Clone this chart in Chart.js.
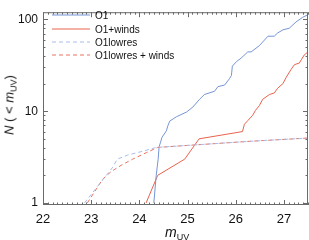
<!DOCTYPE html>
<html>
<head>
<meta charset="utf-8">
<script src="https://cdn.jsdelivr.net/npm/chart.js@4"></script>
<style>
  body { margin: 0; background: #fff; }
  #wrap { position: relative; width: 309px; height: 240px; font-family: "Liberation Sans", Arial, sans-serif; color: #111; }
  canvas { position: absolute; left: 0; top: 0; }
  .leg { position: absolute; left: 95px; font-size: 10px; line-height: 12px; white-space: nowrap; }
  #xt { position: absolute; left: 165px; top: 224px; font-size: 14px; }
  #yt { position: absolute; left: 10px; top: 105px; font-size: 13px; white-space: nowrap; transform: translate(-50%, -50%) rotate(-90deg); }
  sub { font-size: 9px; font-style: normal; vertical-align: -3px; }
</style>
</head>
<body>
<div id="wrap">
  <canvas id="chart" width="309" height="240"></canvas>
  <div class="leg" style="top:10px">O1</div>
  <div class="leg" style="top:24px">O1+winds</div>
  <div class="leg" style="top:37px">O1lowres</div>
  <div class="leg" style="top:50px">O1lowres + winds</div>
  <div id="xt"><i>m</i><sub>UV</sub></div>
  <div id="yt"><i>N</i> ( &lt; <i>m</i><sub>UV</sub>)</div>
</div>
<script>
// Datos
const o1X = [24.30, 24.35, 24.39, 24.41, 24.44, 24.47, 24.56, 24.59, 24.63, 24.77, 24.98, 25.11, 25.25, 25.35, 25.56, 25.63, 25.77, 25.87, 25.91, 25.93, 26.02, 26.11, 26.25, 26.32, 26.49, 26.67, 26.80, 26.87, 26.98, 27.11, 27.25, 27.39, 27.50];
const o1Y = [1.0, 2.0, 3.0, 4.1, 4.6, 5.2, 6.1, 6.9, 7.8, 8.7, 9.8, 11.1, 13.5, 15.2, 16.5, 18.5, 19.3, 22.6, 24.5, 31, 34.9, 37.8, 44.3, 44.3, 51.8, 65.7, 65.7, 71.2, 77.1, 80.2, 93.8, 105.6, 112.6];

const windsX = [24.14, 24.38, 24.94, 25.24, 26.14, 26.18, 26.25, 26.35, 26.41, 26.49, 26.56, 26.70, 26.80, 26.87, 26.98, 27.05, 27.15, 27.22, 27.32, 27.36, 27.42, 27.50];
const windsY = [1.0, 2.0, 3.0, 5.0, 6.0, 7.2, 7.9, 9.0, 10.2, 11.5, 13.5, 15.2, 15.8, 17.8, 20.0, 23.5, 28.6, 32.2, 33.5, 36.3, 40.9, 44.3];

const lowresX = [22.86, 23.45, 23.54, 23.76, 24.07, 24.35, 25.15, 26.30, 27.50];
const lowresY = [1.0, 2.46, 3.0, 3.33, 3.66, 4.03, 4.29, 4.7, 5.1];

const lowresWindsX = [22.92, 23.24, 23.41, 23.62, 23.86, 24.14, 24.38, 25.15, 26.30, 27.50];
const lowresWindsY = [1.0, 1.82, 2.19, 2.57, 3.0, 3.52, 4.03, 4.29, 4.7, 5.1];

const xTicks = [22, 23, 24, 25, 26, 27];
const yTicks = [1, 10, 100];

function puntos(xs, ys) {
  return xs.map((x, i) => ({ x: x, y: ys[i] }));
}

// Marco, marcas hacia dentro y muestras de la leyenda
const marcoPlugin = {
  id: 'marco',
  afterDatasetsDraw(chart) {
    const { ctx, chartArea: a, scales } = chart;
    const xs = scales.x, ys = scales.y;
    ctx.save();
    ctx.strokeStyle = '#6a6a6a';
    ctx.lineWidth = 1;
    ctx.strokeRect(a.left + 0.5, a.top + 0.5, a.right - a.left - 1, a.bottom - a.top - 1);
    ctx.beginPath();
    for (let i = 0; i <= 55; i++) {
      const v = 22 + i * 0.1;
      const px = Math.round(xs.getPixelForValue(v)) + 0.5;
      const len = (i % 10 === 0) ? 5 : 2.5;
      ctx.moveTo(px, a.bottom); ctx.lineTo(px, a.bottom - len);
      ctx.moveTo(px, a.top); ctx.lineTo(px, a.top + len);
    }
    [1, 10, 100].forEach(d => {
      for (let m = 1; m <= 9; m++) {
        const v = m * d;
        if (v < ys.min || v > ys.max) continue;
        const py = Math.round(ys.getPixelForValue(v)) + 0.5;
        const len = (m === 1) ? 5 : 2.5;
        ctx.moveTo(a.left, py); ctx.lineTo(a.left + len, py);
        ctx.moveTo(a.right, py); ctx.lineTo(a.right - len, py);
      }
    });
    ctx.stroke();

    // leyenda: orden O1, O1+winds, O1lowres, O1lowres + winds
    const orden = [2, 3, 0, 1];
    const filas = [15, 29, 42, 55];
    orden.forEach((idx, k) => {
      const ds = chart.data.datasets[idx];
      ctx.beginPath();
      ctx.strokeStyle = ds.borderColor;
      ctx.lineWidth = 1;
      ctx.setLineDash(ds.borderDash || []);
      ctx.moveTo(52, filas[k]);
      ctx.lineTo(90, filas[k]);
      ctx.stroke();
    });
    ctx.restore();
  }
};

new Chart(document.getElementById('chart'), {
  type: 'line',
  data: {
    datasets: [
      { label: 'O1lowres', data: puntos(lowresX, lowresY), borderColor: '#a9bde8', borderDash: [4, 3], borderWidth: 1 },
      { label: 'O1lowres + winds', data: puntos(lowresWindsX, lowresWindsY), borderColor: '#e8735f', borderDash: [4, 3], borderWidth: 1 },
      { label: 'O1', data: puntos(o1X, o1Y), borderColor: '#7595d6', borderWidth: 1 },
      { label: 'O1+winds', data: puntos(windsX, windsY), borderColor: '#e8634d', borderWidth: 1 }
    ]
  },
  options: {
    responsive: false,
    animation: false,
    elements: { point: { radius: 0 }, line: { tension: 0 } },
    layout: { padding: { top: 1, right: 1, left: 0, bottom: 0 } },
    plugins: { legend: { display: false }, tooltip: { enabled: false } },
    scales: {
      x: {
        type: 'linear', min: 22, max: 27.5,
        afterBuildTicks: s => { s.ticks = xTicks.map(v => ({ value: v })); },
        afterFit: s => { s.height = 35; },
        grid: { display: false, drawTicks: false },
        border: { display: false },
        ticks: { padding: 7, color: '#111', font: { family: 'Liberation Sans', size: 13 }, maxRotation: 0 }
      },
      y: {
        type: 'logarithmic', min: 0.95, max: 120,
        afterBuildTicks: s => { s.ticks = yTicks.map(v => ({ value: v })); },
        afterFit: s => { s.width = 43; },
        grid: { display: false, drawTicks: false },
        border: { display: false },
        ticks: { padding: 5, color: '#111', font: { family: 'Liberation Sans', size: 12 }, callback: v => String(v) }
      }
    }
  },
  plugins: [marcoPlugin]
});
</script>
</body>
</html>
